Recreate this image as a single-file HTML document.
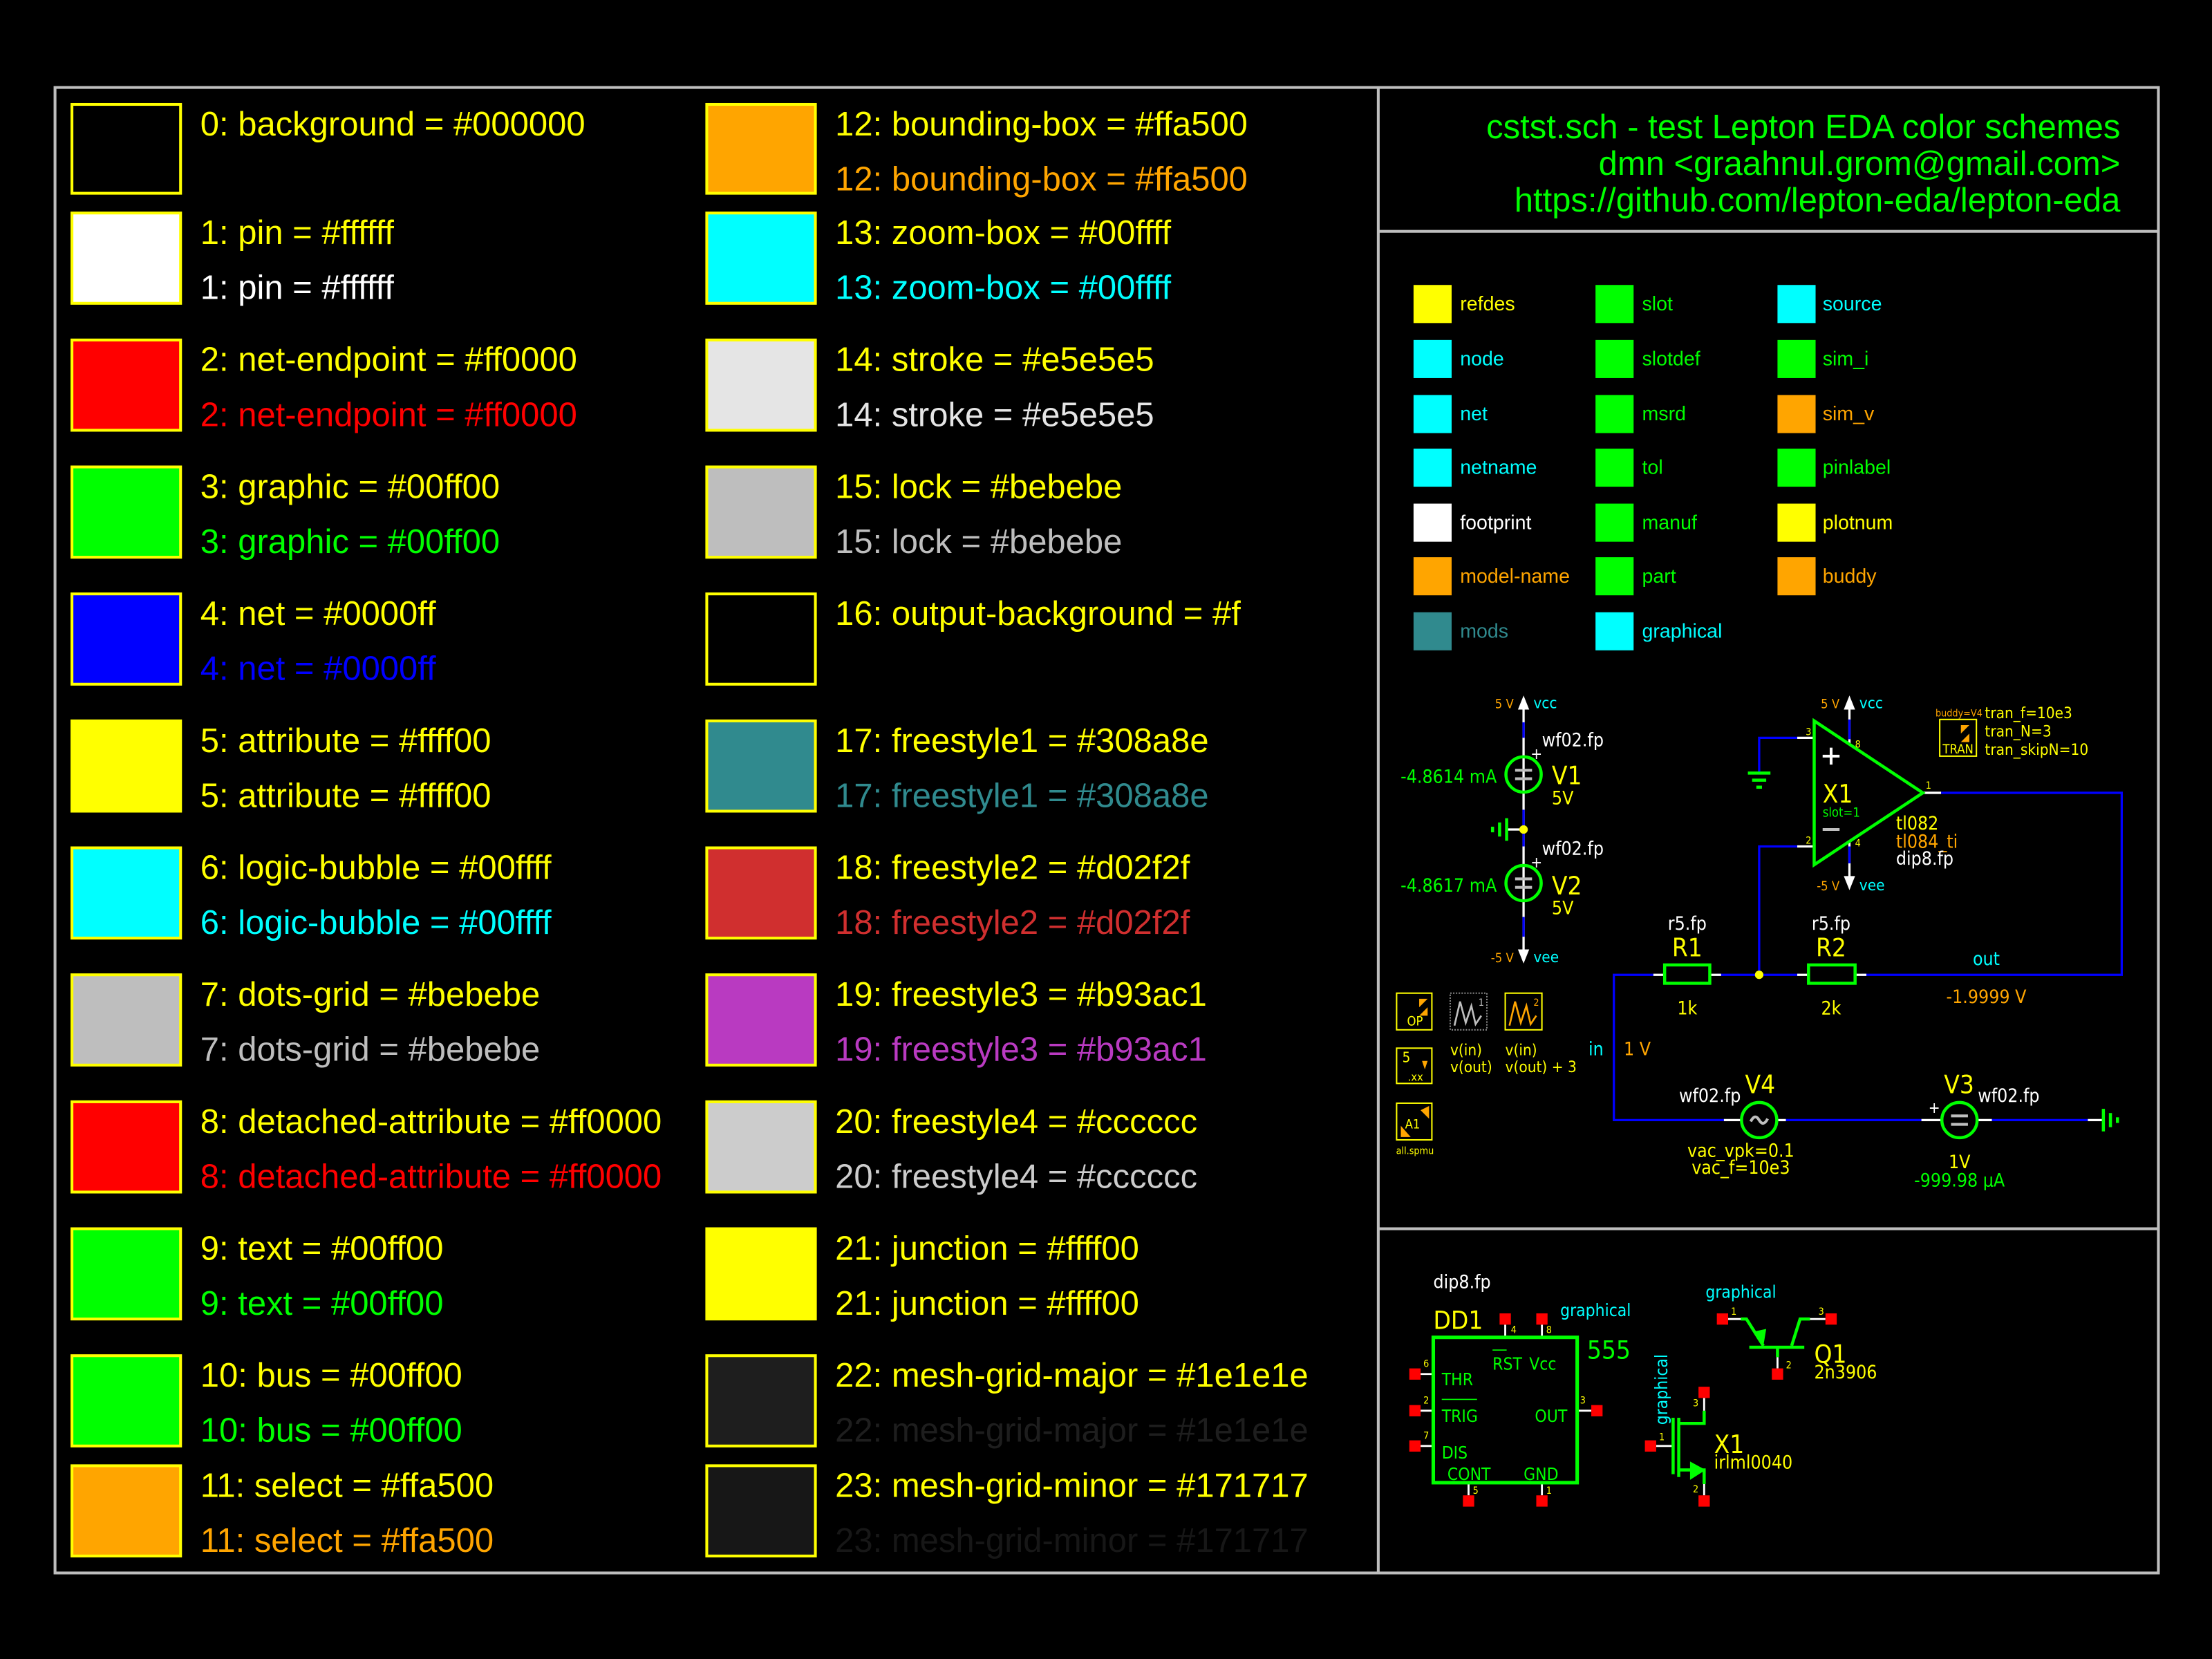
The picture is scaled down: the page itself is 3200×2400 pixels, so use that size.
<!DOCTYPE html>
<html><head><meta charset="utf-8"><style>
html,body{margin:0;padding:0;background:#000;}
svg{display:block;}
.b{font-family:"Liberation Sans",sans-serif;font-size:24px;}
.n{font-family:"Liberation Sans Narrow","DejaVu Sans Condensed","Liberation Sans",sans-serif;}
.l{font-family:"Liberation Sans",sans-serif;font-size:14px;}
</style></head><body>
<svg width="3200" height="2400" viewBox="0 0 1568 1176" xmlns="http://www.w3.org/2000/svg">
<rect width="1568" height="1176" fill="#000"/>
<rect x="39" y="62" width="1491" height="1053" fill="none" stroke="#bebebe" stroke-width="2"/>
<line x1="977" y1="62" x2="977" y2="1115" stroke="#bebebe" stroke-width="2"/>
<line x1="977" y1="164" x2="1530" y2="164" stroke="#bebebe" stroke-width="2"/>
<line x1="977" y1="871" x2="1530" y2="871" stroke="#bebebe" stroke-width="2"/>

<g stroke="#ffff00" stroke-width="2">
<rect x="51" y="74" width="77" height="63" fill="#000000"/>
<rect x="51" y="151" width="77" height="64" fill="#ffffff"/>
<rect x="51" y="241" width="77" height="64" fill="#ff0000"/>
<rect x="51" y="331" width="77" height="64" fill="#00ff00"/>
<rect x="51" y="421" width="77" height="64" fill="#0000ff"/>
<rect x="51" y="511" width="77" height="64" fill="#ffff00"/>
<rect x="51" y="601" width="77" height="64" fill="#00ffff"/>
<rect x="51" y="691" width="77" height="64" fill="#bebebe"/>
<rect x="51" y="781" width="77" height="64" fill="#ff0000"/>
<rect x="51" y="871" width="77" height="64" fill="#00ff00"/>
<rect x="51" y="961" width="77" height="64" fill="#00ff00"/>
<rect x="51" y="1039" width="77" height="64" fill="#ffa500"/>
<rect x="501" y="74" width="77" height="63" fill="#ffa500"/>
<rect x="501" y="151" width="77" height="64" fill="#00ffff"/>
<rect x="501" y="241" width="77" height="64" fill="#e5e5e5"/>
<rect x="501" y="331" width="77" height="64" fill="#bebebe"/>
<rect x="501" y="421" width="77" height="64" fill="#000000"/>
<rect x="501" y="511" width="77" height="64" fill="#308a8e"/>
<rect x="501" y="601" width="77" height="64" fill="#d02f2f"/>
<rect x="501" y="691" width="77" height="64" fill="#b93ac1"/>
<rect x="501" y="781" width="77" height="64" fill="#cccccc"/>
<rect x="501" y="871" width="77" height="64" fill="#ffff00"/>
<rect x="501" y="961" width="77" height="64" fill="#1e1e1e"/>
<rect x="501" y="1039" width="77" height="64" fill="#171717"/>
</g>

<g class="b">
<text x="142" y="96" fill="#ffff00">0: background = #000000</text>
<text x="142" y="173" fill="#ffff00">1: pin = #ffffff</text>
<text x="142" y="212" fill="#ffffff">1: pin = #ffffff</text>
<text x="142" y="263" fill="#ffff00">2: net-endpoint = #ff0000</text>
<text x="142" y="302" fill="#ff0000">2: net-endpoint = #ff0000</text>
<text x="142" y="353" fill="#ffff00">3: graphic = #00ff00</text>
<text x="142" y="392" fill="#00ff00">3: graphic = #00ff00</text>
<text x="142" y="443" fill="#ffff00">4: net = #0000ff</text>
<text x="142" y="482" fill="#0000ff">4: net = #0000ff</text>
<text x="142" y="533" fill="#ffff00">5: attribute = #ffff00</text>
<text x="142" y="572" fill="#ffff00">5: attribute = #ffff00</text>
<text x="142" y="623" fill="#ffff00">6: logic-bubble = #00ffff</text>
<text x="142" y="662" fill="#00ffff">6: logic-bubble = #00ffff</text>
<text x="142" y="713" fill="#ffff00">7: dots-grid = #bebebe</text>
<text x="142" y="752" fill="#bebebe">7: dots-grid = #bebebe</text>
<text x="142" y="803" fill="#ffff00">8: detached-attribute = #ff0000</text>
<text x="142" y="842" fill="#ff0000">8: detached-attribute = #ff0000</text>
<text x="142" y="893" fill="#ffff00">9: text = #00ff00</text>
<text x="142" y="932" fill="#00ff00">9: text = #00ff00</text>
<text x="142" y="983" fill="#ffff00">10: bus = #00ff00</text>
<text x="142" y="1022" fill="#00ff00">10: bus = #00ff00</text>
<text x="142" y="1061" fill="#ffff00">11: select = #ffa500</text>
<text x="142" y="1100" fill="#ffa500">11: select = #ffa500</text>

<text x="592" y="96" fill="#ffff00">12: bounding-box = #ffa500</text>
<text x="592" y="135" fill="#ffa500">12: bounding-box = #ffa500</text>
<text x="592" y="173" fill="#ffff00">13: zoom-box = #00ffff</text>
<text x="592" y="212" fill="#00ffff">13: zoom-box = #00ffff</text>
<text x="592" y="263" fill="#ffff00">14: stroke = #e5e5e5</text>
<text x="592" y="302" fill="#e5e5e5">14: stroke = #e5e5e5</text>
<text x="592" y="353" fill="#ffff00">15: lock = #bebebe</text>
<text x="592" y="392" fill="#bebebe">15: lock = #bebebe</text>
<text x="592" y="443" fill="#ffff00">16: output-background = #f</text>
<text x="592" y="533" fill="#ffff00">17: freestyle1 = #308a8e</text>
<text x="592" y="572" fill="#308a8e">17: freestyle1 = #308a8e</text>
<text x="592" y="623" fill="#ffff00">18: freestyle2 = #d02f2f</text>
<text x="592" y="662" fill="#d02f2f">18: freestyle2 = #d02f2f</text>
<text x="592" y="713" fill="#ffff00">19: freestyle3 = #b93ac1</text>
<text x="592" y="752" fill="#b93ac1">19: freestyle3 = #b93ac1</text>
<text x="592" y="803" fill="#ffff00">20: freestyle4 = #cccccc</text>
<text x="592" y="842" fill="#cccccc">20: freestyle4 = #cccccc</text>
<text x="592" y="893" fill="#ffff00">21: junction = #ffff00</text>
<text x="592" y="932" fill="#ffff00">21: junction = #ffff00</text>
<text x="592" y="983" fill="#ffff00">22: mesh-grid-major = #1e1e1e</text>
<text x="592" y="1022" fill="#1e1e1e">22: mesh-grid-major = #1e1e1e</text>
<text x="592" y="1061" fill="#ffff00">23: mesh-grid-minor = #171717</text>
<text x="592" y="1100" fill="#171717">23: mesh-grid-minor = #171717</text>
</g>

<g class="b" fill="#00ff00" text-anchor="end">
<text x="1503" y="98">cstst.sch - test Lepton EDA color schemes</text>
<text x="1503" y="124">dmn &lt;graahnul.grom@gmail.com&gt;</text>
<text x="1503" y="150">https://github.com/lepton-eda/lepton-eda</text>
</g>

<!-- legend -->
<g>
<rect x="1002" y="202" width="27" height="27" fill="#ffff00"/>
<rect x="1002" y="241" width="27" height="27" fill="#00ffff"/>
<rect x="1002" y="280" width="27" height="27" fill="#00ffff"/>
<rect x="1002" y="318" width="27" height="27" fill="#00ffff"/>
<rect x="1002" y="357" width="27" height="27" fill="#ffffff"/>
<rect x="1002" y="395" width="27" height="27" fill="#ffa500"/>
<rect x="1002" y="434" width="27" height="27" fill="#308a8e"/>
<rect x="1131" y="202" width="27" height="27" fill="#00ff00"/>
<rect x="1131" y="241" width="27" height="27" fill="#00ff00"/>
<rect x="1131" y="280" width="27" height="27" fill="#00ff00"/>
<rect x="1131" y="318" width="27" height="27" fill="#00ff00"/>
<rect x="1131" y="357" width="27" height="27" fill="#00ff00"/>
<rect x="1131" y="395" width="27" height="27" fill="#00ff00"/>
<rect x="1131" y="434" width="27" height="27" fill="#00ffff"/>
<rect x="1260" y="202" width="27" height="27" fill="#00ffff"/>
<rect x="1260" y="241" width="27" height="27" fill="#00ff00"/>
<rect x="1260" y="280" width="27" height="27" fill="#ffa500"/>
<rect x="1260" y="318" width="27" height="27" fill="#00ff00"/>
<rect x="1260" y="357" width="27" height="27" fill="#ffff00"/>
<rect x="1260" y="395" width="27" height="27" fill="#ffa500"/>
</g>
<g class="l">
<text x="1035" y="220" fill="#ffff00">refdes</text>
<text x="1035" y="259" fill="#00ffff">node</text>
<text x="1035" y="298" fill="#00ffff">net</text>
<text x="1035" y="336" fill="#00ffff">netname</text>
<text x="1035" y="375" fill="#ffffff">footprint</text>
<text x="1035" y="413" fill="#ffa500">model-name</text>
<text x="1035" y="452" fill="#308a8e">mods</text>
<text x="1164" y="220" fill="#00ff00">slot</text>
<text x="1164" y="259" fill="#00ff00">slotdef</text>
<text x="1164" y="298" fill="#00ff00">msrd</text>
<text x="1164" y="336" fill="#00ff00">tol</text>
<text x="1164" y="375" fill="#00ff00">manuf</text>
<text x="1164" y="413" fill="#00ff00">part</text>
<text x="1164" y="452" fill="#00ffff">graphical</text>
<text x="1292" y="220" fill="#00ffff">source</text>
<text x="1292" y="259" fill="#00ff00">sim_i</text>
<text x="1292" y="298" fill="#ffa500">sim_v</text>
<text x="1292" y="336" fill="#00ff00">pinlabel</text>
<text x="1292" y="375" fill="#ffff00">plotnum</text>
<text x="1292" y="413" fill="#ffa500">buddy</text>
</g>

<!-- circuit -->
<g fill="none" stroke-width="1.6">
<line x1="1080" y1="500" x2="1080" y2="676" stroke="#ffffff"/>
<line x1="1080" y1="512" x2="1080" y2="523" stroke="#0000ff"/>
<line x1="1080" y1="574" x2="1080" y2="600" stroke="#0000ff"/>
<line x1="1080" y1="650" x2="1080" y2="664" stroke="#0000ff"/>
<line x1="1068" y1="588" x2="1080" y2="588" stroke="#ffffff"/>
<polyline points="1274,523 1247,523 1247,548" stroke="#0000ff"/>
<line x1="1274" y1="523" x2="1286" y2="523" stroke="#ffffff"/>
<polyline points="1274,600 1247,600 1247,691" stroke="#0000ff"/>
<line x1="1274" y1="600" x2="1286" y2="600" stroke="#ffffff"/>
<line x1="1311" y1="500" x2="1311" y2="528" stroke="#ffffff"/>
<line x1="1311" y1="510" x2="1311" y2="524" stroke="#0000ff"/>
<line x1="1311" y1="596" x2="1311" y2="624" stroke="#ffffff"/>
<line x1="1311" y1="600" x2="1311" y2="612" stroke="#0000ff"/>
<line x1="1363" y1="562" x2="1376" y2="562" stroke="#ffffff"/>
<polyline points="1376,562 1504,562 1504,691 1320,691" stroke="#0000ff"/>
<polyline points="1172,691 1144,691 1144,794 1222,794" stroke="#0000ff"/>
<line x1="1217" y1="691" x2="1276" y2="691" stroke="#0000ff"/>
<line x1="1172" y1="691" x2="1180" y2="691" stroke="#ffffff"/>
<line x1="1212" y1="691" x2="1220" y2="691" stroke="#ffffff"/>
<line x1="1274" y1="691" x2="1282" y2="691" stroke="#ffffff"/>
<line x1="1315" y1="691" x2="1323" y2="691" stroke="#ffffff"/>
<line x1="1222" y1="794" x2="1234" y2="794" stroke="#ffffff"/>
<line x1="1259" y1="794" x2="1266" y2="794" stroke="#ffffff"/>
<line x1="1266" y1="794" x2="1362" y2="794" stroke="#0000ff"/>
<line x1="1362" y1="794" x2="1376" y2="794" stroke="#ffffff"/>
<line x1="1401" y1="794" x2="1412" y2="794" stroke="#ffffff"/>
<line x1="1412" y1="794" x2="1480" y2="794" stroke="#0000ff"/>
<line x1="1480" y1="794" x2="1490" y2="794" stroke="#ffffff"/>
</g>
<g fill="#ffffff">
<polygon points="1076,503 1084,503 1080,493"/>
<polygon points="1076,673 1084,673 1080,683"/>
<polygon points="1307,503 1315,503 1311,493"/>
<polygon points="1307,621 1315,621 1311,631"/>
</g>
<g stroke="#00ff00" stroke-width="2.2">
<line x1="1068" y1="580" x2="1068" y2="596"/><line x1="1063" y1="583" x2="1063" y2="593"/><line x1="1058" y1="586" x2="1058" y2="590"/>
<line x1="1239" y1="548" x2="1255" y2="548"/><line x1="1242" y1="553" x2="1252" y2="553"/><line x1="1245" y1="558" x2="1249" y2="558"/>
<line x1="1491" y1="786" x2="1491" y2="802"/><line x1="1496" y1="789" x2="1496" y2="799"/><line x1="1501" y1="792" x2="1501" y2="796"/>
</g>
<g fill="none" stroke="#00ff00" stroke-width="2.2">
<circle cx="1080" cy="549" r="12.5"/>
<circle cx="1080" cy="626" r="12.5"/>
<circle cx="1247" cy="794" r="12.5"/>
<circle cx="1389" cy="794" r="12.5"/>
<polygon points="1286,511 1286,613 1363,562"/>
<rect x="1180" y="684" width="32" height="13"/>
<rect x="1282" y="684" width="33" height="13"/>
</g>
<g stroke="#bebebe" stroke-width="2">
<line x1="1074" y1="546" x2="1086" y2="546"/><line x1="1074" y1="552" x2="1086" y2="552"/>
<line x1="1074" y1="623" x2="1086" y2="623"/><line x1="1074" y1="629" x2="1086" y2="629"/>
<line x1="1383" y1="791" x2="1395" y2="791"/><line x1="1383" y1="797" x2="1395" y2="797"/>
<line x1="1292" y1="536" x2="1304" y2="536" stroke="#fff"/><line x1="1298" y1="530" x2="1298" y2="542" stroke="#fff"/>
<line x1="1292" y1="588" x2="1304" y2="588"/>
</g>
<path d="M1241,795 q3,-6 6,-1 q3,5 6,-1" fill="none" stroke="#bebebe" stroke-width="2"/>
<circle cx="1080" cy="588" r="3" fill="#ffff00"/>
<circle cx="1247" cy="691" r="3" fill="#ffff00"/>

<g class="n">
<text x="1073" y="502" font-size="9" fill="#ffa500" text-anchor="end">5 V</text>
<text x="1087" y="502" font-size="11" fill="#00ffff">vcc</text>
<text x="1304" y="502" font-size="9" fill="#ffa500" text-anchor="end">5 V</text>
<text x="1318" y="502" font-size="11" fill="#00ffff">vcc</text>
<text x="1073" y="682" font-size="9" fill="#ffa500" text-anchor="end">-5 V</text>
<text x="1087" y="682" font-size="11" fill="#00ffff">vee</text>
<text x="1304" y="631" font-size="9" fill="#ffa500" text-anchor="end">-5 V</text>
<text x="1318" y="631" font-size="11" fill="#00ffff">vee</text>
<text x="1093" y="529" font-size="13" fill="#fff">wf02.fp</text>
<text x="1085" y="538" font-size="11" fill="#fff">+</text>
<text x="1061" y="555" font-size="13" fill="#00ff00" text-anchor="end">-4.8614 mA</text>
<text x="1100" y="556" font-size="18" fill="#ffff00">V1</text>
<text x="1100" y="570" font-size="13" fill="#ffff00">5V</text>
<text x="1093" y="606" font-size="13" fill="#fff">wf02.fp</text>
<text x="1085" y="615" font-size="11" fill="#fff">+</text>
<text x="1061" y="632" font-size="13" fill="#00ff00" text-anchor="end">-4.8617 mA</text>
<text x="1100" y="634" font-size="18" fill="#ffff00">V2</text>
<text x="1100" y="648" font-size="13" fill="#ffff00">5V</text>
<text x="1280" y="521" font-size="7" fill="#ffff00">3</text>
<text x="1280" y="598" font-size="7" fill="#ffff00">2</text>
<text x="1315" y="530" font-size="7" fill="#ffff00">8</text>
<text x="1315" y="600" font-size="7" fill="#ffff00">4</text>
<text x="1365" y="559" font-size="7" fill="#ffff00">1</text>
<text x="1292" y="569" font-size="18" fill="#ffff00">X1</text>
<text x="1292" y="579" font-size="9" fill="#00ff00">slot=1</text>
<text x="1344" y="588" font-size="13" fill="#ffff00">tl082</text>
<text x="1344" y="601" font-size="13" fill="#ffa500">tl084_ti</text>
<text x="1344" y="613" font-size="13" fill="#fff">dip8.fp</text>
<text x="1372" y="508" font-size="7" fill="#ffa500">buddy=V4</text>
<text x="1407" y="509" font-size="11" fill="#ffff00">tran_f=10e3</text>
<text x="1407" y="522" font-size="11" fill="#ffff00">tran_N=3</text>
<text x="1407" y="535" font-size="11" fill="#ffff00">tran_skipN=10</text>
<text x="1388" y="534" font-size="9" fill="#ffff00" text-anchor="middle">TRAN</text>
<text x="1196" y="659" font-size="13" fill="#fff" text-anchor="middle">r5.fp</text>
<text x="1196" y="678" font-size="18" fill="#ffff00" text-anchor="middle">R1</text>
<text x="1196" y="719" font-size="13" fill="#ffff00" text-anchor="middle">1k</text>
<text x="1298" y="659" font-size="13" fill="#fff" text-anchor="middle">r5.fp</text>
<text x="1298" y="678" font-size="18" fill="#ffff00" text-anchor="middle">R2</text>
<text x="1298" y="719" font-size="13" fill="#ffff00" text-anchor="middle">2k</text>
<text x="1408" y="684" font-size="13" fill="#00ffff" text-anchor="middle">out</text>
<text x="1408" y="711" font-size="13" fill="#ffa500" text-anchor="middle">-1.9999 V</text>
<text x="1126" y="748" font-size="13" fill="#00ffff">in</text>
<text x="1151" y="748" font-size="13" fill="#ffa500">1 V</text>
<text x="1234" y="781" font-size="13" fill="#fff" text-anchor="end">wf02.fp</text>
<text x="1237" y="775" font-size="18" fill="#ffff00">V4</text>
<text x="1378" y="775" font-size="18" fill="#ffff00">V3</text>
<text x="1402" y="781" font-size="13" fill="#fff">wf02.fp</text>
<text x="1367" y="789" font-size="11" fill="#fff">+</text>
<text x="1234" y="820" font-size="13" fill="#ffff00" text-anchor="middle">vac_vpk=0.1</text>
<text x="1234" y="832" font-size="13" fill="#ffff00" text-anchor="middle">vac_f=10e3</text>
<text x="1389" y="828" font-size="13" fill="#ffff00" text-anchor="middle">1V</text>
<text x="1389" y="841" font-size="13" fill="#00ff00" text-anchor="middle">-999.98 µA</text>
<text x="1028" y="748" font-size="11" fill="#ffff00">v(in)</text>
<text x="1028" y="760" font-size="11" fill="#ffff00">v(out)</text>
<text x="1067" y="748" font-size="11" fill="#ffff00">v(in)</text>
<text x="1067" y="760" font-size="11" fill="#ffff00">v(out) + 3</text>
<text x="1003" y="818" font-size="7" fill="#ffff00" text-anchor="middle">all.spmu</text>
</g>
<g fill="none" stroke="#ffff00" stroke-width="1">
<rect x="1375" y="510" width="26" height="26"/>
<rect x="990" y="704" width="25" height="26"/>
<rect x="1067" y="704" width="26" height="26"/>
<rect x="990" y="743" width="25" height="25"/>
<rect x="990" y="782" width="25" height="26"/>
<rect x="1028" y="704" width="26" height="26" stroke="#888" stroke-dasharray="1,1"/>
</g>
<polyline points="1031,727 1035,710 1039,725 1043,713 1046,726 1050,720" fill="none" stroke="#bebebe" stroke-width="1.3"/>
<polyline points="1070,727 1074,710 1078,725 1082,713 1085,726 1089,720" fill="none" stroke="#ffa500" stroke-width="1.3"/>
<g fill="#ffa500">
<polygon points="1006,708 1012,708 1006,714"/><polygon points="1012,714 1012,720 1006,720"/>
<polygon points="1390,514 1396,514 1390,520"/><polygon points="1396,520 1396,526 1390,526"/>
<polygon points="1007,787 1013,784 1013,793"/><polygon points="993,806 993,798 1000,806"/>
<polygon points="1008,752 1012,752 1010,758"/>
</g>
<g class="n" fill="#ffff00">
<text x="1003" y="727" font-size="9" text-anchor="middle">OP</text>
<text x="994" y="753" font-size="10">5</text>
<text x="998" y="766" font-size="8">.xx</text>
<text x="996" y="800" font-size="9">A1</text>
<text x="1048" y="713" font-size="7" fill="#bebebe">1</text>
<text x="1087" y="713" font-size="7" fill="#ffa500">2</text>
</g>

<g stroke="#ffffff" stroke-width="1.4">
<line x1="1007" y1="974" x2="1016" y2="974"/><line x1="1007" y1="1000" x2="1016" y2="1000"/><line x1="1007" y1="1025" x2="1016" y2="1025"/>
<line x1="1067" y1="939" x2="1067" y2="948"/><line x1="1093" y1="939" x2="1093" y2="948"/>
<line x1="1041" y1="1051" x2="1041" y2="1060"/><line x1="1093" y1="1051" x2="1093" y2="1060"/>
<line x1="1118" y1="1000" x2="1128" y2="1000"/>
<line x1="1174" y1="1025" x2="1186" y2="1025"/>
<line x1="1208" y1="991" x2="1208" y2="1000"/><line x1="1208" y1="1052" x2="1208" y2="1060"/>
<line x1="1225" y1="935" x2="1234" y2="935"/><line x1="1283" y1="935" x2="1294" y2="935"/>
<line x1="1260" y1="962" x2="1260" y2="970"/>
</g>
<rect x="1016" y="948" width="102" height="103" fill="none" stroke="#00ff00" stroke-width="2.5"/>
<g fill="#ff0000">
<rect x="999" y="970" width="8" height="8"/><rect x="999" y="996" width="8" height="8"/><rect x="999" y="1021" width="8" height="8"/>
<rect x="1063" y="931" width="8" height="8"/><rect x="1089" y="931" width="8" height="8"/>
<rect x="1037" y="1060" width="8" height="8"/><rect x="1089" y="1060" width="8" height="8"/>
<rect x="1128" y="996" width="8" height="8"/>
<rect x="1217" y="931" width="8" height="8"/><rect x="1294" y="931" width="8" height="8"/><rect x="1256" y="970" width="8" height="8"/>
<rect x="1166" y="1021" width="8" height="8"/><rect x="1204" y="983" width="8" height="8"/><rect x="1204" y="1060" width="8" height="8"/>
</g>
<g stroke="#00ff00" stroke-width="2.2" fill="none">
<line x1="1240" y1="955" x2="1279" y2="955"/>
<polyline points="1234,935 1238,935 1250,954"/>
<polyline points="1270,954 1276,935 1283,935"/>
<line x1="1260" y1="955" x2="1260" y2="962"/>
<line x1="1186" y1="1005" x2="1186" y2="1045"/>
<line x1="1190" y1="1005" x2="1190" y2="1047"/>
<polyline points="1190,1009 1208,1009 1208,1000"/>
<polyline points="1190,1042 1208,1042 1208,1052"/>
<line x1="1058" y1="957" x2="1068" y2="957" stroke-width="0.8"/>
<line x1="1022" y1="992" x2="1047" y2="992" stroke-width="0.8"/>
</g>
<polygon points="1243,944 1250,954 1252,942" fill="#00ff00"/>
<polygon points="1198,1036 1209,1042 1198,1049" fill="#00ff00"/>
<g class="n">
<text x="1016" y="913" font-size="13" fill="#fff">dip8.fp</text>
<text x="1016" y="942" font-size="18" fill="#ffff00">DD1</text>
<text x="1106" y="933" font-size="12" fill="#00ffff">graphical</text>
<text x="1125" y="963" font-size="18" fill="#00ff00">555</text>
<text x="1058" y="971" font-size="12" fill="#00ff00">RST</text>
<text x="1084" y="971" font-size="12" fill="#00ff00">Vcc</text>
<text x="1022" y="982" font-size="12" fill="#00ff00">THR</text>
<text x="1022" y="1008" font-size="12" fill="#00ff00">TRIG</text>
<text x="1088" y="1008" font-size="12" fill="#00ff00">OUT</text>
<text x="1022" y="1034" font-size="12" fill="#00ff00">DIS</text>
<text x="1026" y="1049" font-size="12" fill="#00ff00">CONT</text>
<text x="1080" y="1049" font-size="12" fill="#00ff00">GND</text>
<text x="1209" y="920" font-size="12" fill="#00ffff">graphical</text>
<text x="1286" y="966" font-size="18" fill="#ffff00">Q1</text>
<text x="1286" y="977" font-size="13" fill="#ffff00">2n3906</text>
<text x="1215" y="1030" font-size="18" fill="#ffff00">X1</text>
<text x="1215" y="1041" font-size="13" fill="#ffff00">irlml0040</text>
<text x="1182" y="1010" font-size="12" fill="#00ffff" transform="rotate(-90 1182 1010)">graphical</text>
<g font-size="7" fill="#ffff00">
<text x="1009" y="969">6</text><text x="1009" y="995">2</text><text x="1009" y="1020">7</text>
<text x="1071" y="945">4</text><text x="1096" y="945">8</text>
<text x="1044" y="1059">5</text><text x="1096" y="1059">1</text><text x="1120" y="995">3</text>
<text x="1227" y="932">1</text><text x="1289" y="932">3</text><text x="1266" y="970">2</text>
<text x="1176" y="1021">1</text><text x="1200" y="997">3</text><text x="1200" y="1058">2</text>
</g>
</g>
</svg>
</body></html>
